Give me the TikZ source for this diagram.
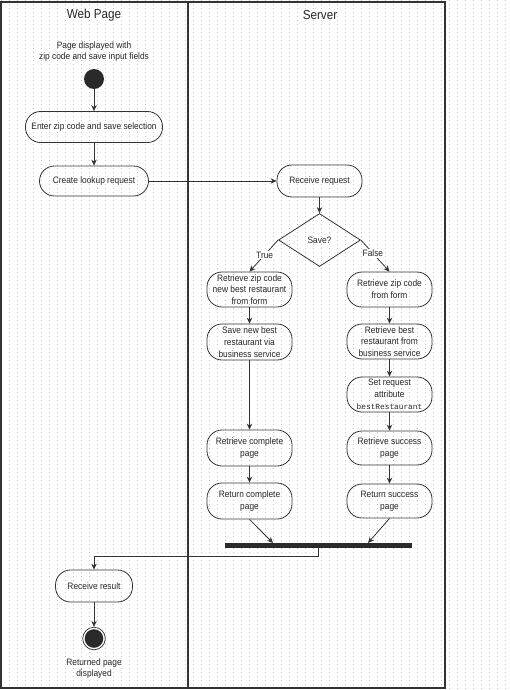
\documentclass[tikz,border=0pt]{standalone}
\usepackage{fontspec}
\setmainfont[FakeStretch=0.9]{Liberation Sans}
\newfontfamily\monof{Liberation Mono}
\usetikzlibrary{shapes.geometric,arrows.meta,calc}
\definecolor{linec}{HTML}{333333}
\definecolor{textc}{HTML}{262626}
\definecolor{darkc}{HTML}{2A2A2A}
\definecolor{gridc}{HTML}{C4C4C4}
\begin{document}
\begin{tikzpicture}[x=1pt,y=-1pt,
  act/.style={draw=linec, line width=0.8pt, rounded corners=15pt, align=center,
    inner sep=1pt, text=textc, font=\fontsize{9.3}{11.8}\selectfont, minimum width=85pt},
  plain/.style={align=center, inner sep=1pt, text=textc, font=\fontsize{9.3}{11}\selectfont},
  lbl/.style={fill=white, inner sep=1pt, text=textc, font=\fontsize{9.3}{11}\selectfont},
  hdr/.style={inner sep=1pt, text=textc, font=\fontsize{13}{15}\selectfont},
  arr/.style={draw=linec, line width=0.8pt, -{Stealth[length=6pt,width=5.5pt]}},
  lane/.style={draw=linec, line width=1.1pt}]
\useasboundingbox (0,0) rectangle (510,690);
% dotted background grid
\foreach \k in {0,...,172}
  \draw[gridc, line width=0.85pt, dash pattern=on 0.85pt off 7.15pt] (1,0.5+4*\k) -- (510,0.5+4*\k);
% swimlanes
\draw[lane] (1,2) rectangle (445,688);
\draw[lane] (188,2) -- (188,688);
\node[hdr] (hweb) at (94,15) {Web Page};
\node[hdr] (hsrv) at (320,15) {Server};
% web page lane
\node[plain] (start) at (94,51.5) {Page displayed with\\zip code and save input fields};
\node[circle, fill=darkc, minimum size=20pt, inner sep=0pt] (init) at (94,79) {};
\node[act, minimum width=137pt, minimum height=31pt] (enter) at (94,127) {Enter zip code and save selection};
\node[act, minimum width=109pt, minimum height=30pt] (create) at (94,181) {Create lookup request};
% server lane
\node[act, minimum height=32pt] (recvreq) at (319.5,181) {Receive request};
\node[diamond, draw=linec, line width=0.8pt, minimum width=82pt, minimum height=53pt,
  inner sep=0pt, text=textc, font=\fontsize{9.3}{11}\selectfont] (dec) at (319.5,240) {Save?};
\node[act, minimum height=35pt] (t1) at (249.5,289.5) {Retrieve zip code\\new best restaurant\\from form};
\node[act, minimum height=36pt] (t2) at (249.5,342) {Save new best\\restaurant via\\business service};
\node[act, minimum height=36pt] (t3) at (249.5,448) {Retrieve complete\\page};
\node[act, minimum height=36pt] (t4) at (249.5,501) {Return complete\\page};
\node[act, minimum height=35pt] (f1) at (389.5,289.5) {Retrieve zip code\\from form};
\node[act, minimum height=35pt] (f2) at (389.5,341.5) {Retrieve best\\restaurant from\\business service};
\node[act, minimum height=35pt] (f3) at (389.5,394.5) {Set request\\attribute\\{\monof\fontsize{7.8}{11.8}\selectfont bestRestaurant}};
\node[act, minimum height=34pt] (f4) at (389.5,448) {Retrieve success\\page};
\node[act, minimum height=34pt] (f5) at (389.5,501) {Return success\\page};
\node[fill=darkc, minimum width=187pt, minimum height=5pt, inner sep=0pt] (bar) at (318.5,545.5) {};
\coordinate (j1) at (273,543);
\coordinate (j2) at (368,543);
% end
\node[act, minimum width=77pt, minimum height=32pt] (recvres) at (94,586) {Receive result};
\node[circle, draw=linec, line width=0.7pt, minimum size=22.6pt, inner sep=0pt] (fin) at (94,638.5) {};
\fill[darkc] (fin.center) circle (9.3pt);
\node[plain] (endtxt) at (94,668.5) {Returned page\\displayed};
% connectors
\draw[arr] (init) -- (enter);
\draw[arr] (enter) -- (create);
\draw[arr] (create) -- (recvreq);
\draw[arr] (recvreq) -- (dec);
\draw[arr] (dec.west) -- (t1.north) node[lbl, pos=0.47] {True};
\draw[arr] (dec.east) -- (f1.north) node[lbl, pos=0.42] {False};
\draw[arr] (t1) -- (t2);
\draw[arr] (t2) -- (t3);
\draw[arr] (t3) -- (t4);
\draw[arr] (f1) -- (f2);
\draw[arr] (f2) -- (f3);
\draw[arr] (f3) -- (f4);
\draw[arr] (f4) -- (f5);
\draw[arr] (t4.south) -- (j1);
\draw[arr] (f5.south) -- (j2);
\draw[arr] (bar.south) -- ++(0,8) -| (recvres.north);
\draw[arr] (recvres) -- (fin);
\end{tikzpicture}
\end{document}
